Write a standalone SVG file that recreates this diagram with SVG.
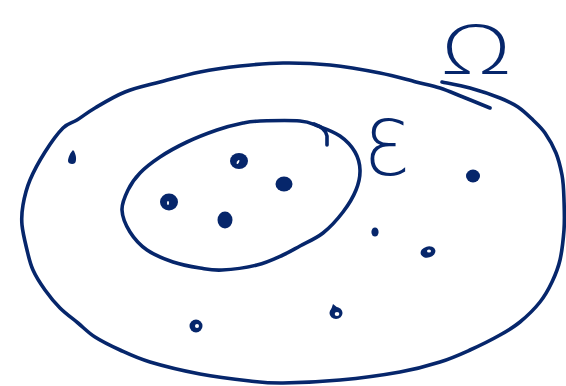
<svg xmlns="http://www.w3.org/2000/svg" width="566" height="386" viewBox="0 0 566 386">
  <style>
    .ink { fill: none; stroke: #06266b; stroke-width: 3.6; stroke-linecap: round; stroke-linejoin: round; }
    .dot { fill: #06266b; }
    .hole { fill: #ffffff; }
    .lbl { fill: #06266b; font-family: "Open Sans", "DejaVu Sans", sans-serif; font-weight: 300; }
  </style>
  <rect width="566" height="386" fill="#ffffff"/>

  <g id="omega-set">
    <path class="ink" d="M490,108 C485.5,106.2 471.3,100.3 463,97 S447.8,90.5 440,88 S426,84.5 416,82 S394.3,75.8 380,73 S346.2,66.7 330,65 S298,62.8 283,63 S253.8,64.5 240,66 S213.3,69.3 200,72 S172.5,78.7 160,82 S135.8,87.7 125,92 S103,103.3 95,108 S82.3,116.7 77,120 S68.3,122.7 63,128 S50.5,143.3 45,152 S33.7,171.2 30,180 S24.3,197.5 23,205 S21.3,217.5 22,225 S25.2,242.5 27,250 S30,263.3 33,270 S40.5,283.7 45,290 S54.5,302.5 60,308 S72.2,318.2 78,323 S88,332.5 95,337 S110.8,345.8 120,350 S136.7,358 150,362 S183.3,370.8 200,374 S236.2,379.5 250,381 S268,383.2 283,383 S320.5,381.8 340,380 S383.3,375 400,372 S428.3,365.7 440,362 S460,354.5 470,350 S491.7,339.7 500,335 S513.3,327.5 520,322 S534.7,308.7 540,302 S548.7,289 552,282 S558,268.7 560,260 S563.2,240 564,230 S564.3,209.2 564,200 S563.5,182.8 562,175 S558.8,160 556,153 S548.8,138.5 545,133 S537.5,124.3 533,120 S523.5,110.7 518,107 S508,101.2 500,98 S479.7,90.7 470,88 S446.7,83 442,82"/>
    <text class="lbl" x="476" y="74" font-size="69" text-anchor="middle" transform="translate(476 0) scale(1.3 1) translate(-476 0)">Ω</text>
    <path class="dot" d="M73,150 C76,153 77,160 75,163 C73,165 68,164 68,161 C68,157 71,152 73,150 Z"/>
    <ellipse class="dot" cx="473" cy="176" rx="7" ry="6.5"/>
    <ellipse class="dot" cx="375" cy="232" rx="3.6" ry="4.6"/>
    <ellipse class="dot" cx="428" cy="252" rx="7.5" ry="5.5" transform="rotate(-15 428 252)"/>
    <ellipse class="hole" cx="429" cy="251" rx="2" ry="1.5"/>
    <ellipse class="dot" cx="336" cy="313" rx="6.5" ry="6"/>
    <path class="dot" d="M331,310 L333,304 L338,308 Z"/>
    <ellipse class="hole" cx="337" cy="314" rx="2.3" ry="2"/>
    <ellipse class="dot" cx="196" cy="326" rx="6.5" ry="6.5"/>
    <ellipse class="hole" cx="197" cy="326" rx="2" ry="2"/>
  </g>

  <g id="event-E">
    <path class="ink" d="M260,121 C269.5,120.7 290.3,120.2 300,121 S311.3,123.5 318,126 S333.8,131.7 340,136 S351.7,146.3 355,152 S359.8,163.7 360,170 S358.8,183 356,190 S348.5,204.8 343,212 S330.2,227.3 323,233 S306.7,242.3 300,246 S290.2,251.8 283,255 S267.2,262.5 257,265 S231.5,269.5 222,270 S208.2,269.3 200,268 S181.8,265 173,262 S154.2,255 147,250 S134.2,238.7 130,232 S122.3,217 122,210 S125,196.2 128,190 S134.7,178.5 140,173 S152.2,162.2 160,157 S177.5,146.5 187,142 S207.7,133.2 217,130 S235.8,124.5 243,123 S250.5,121.3 260,121 Z"/>
    <path class="ink" d="M314,124 C320,126 326,130 327,136 L327,145"/>
    <text class="lbl" x="387" y="175" font-size="76" text-anchor="middle">Ɛ</text>
    <ellipse class="dot" cx="239" cy="161" rx="9" ry="8"/>
    <ellipse class="hole" cx="238" cy="162" rx="1" ry="2.2" transform="rotate(30 238 162)"/>
    <ellipse class="dot" cx="284" cy="184" rx="8.5" ry="7.5"/>
    <ellipse class="dot" cx="169" cy="202" rx="9" ry="8.5"/>
    <ellipse class="hole" cx="168" cy="203" rx="1" ry="2"/>
    <ellipse class="dot" cx="225" cy="220" rx="7.5" ry="8.5"/>
  </g>
</svg>
